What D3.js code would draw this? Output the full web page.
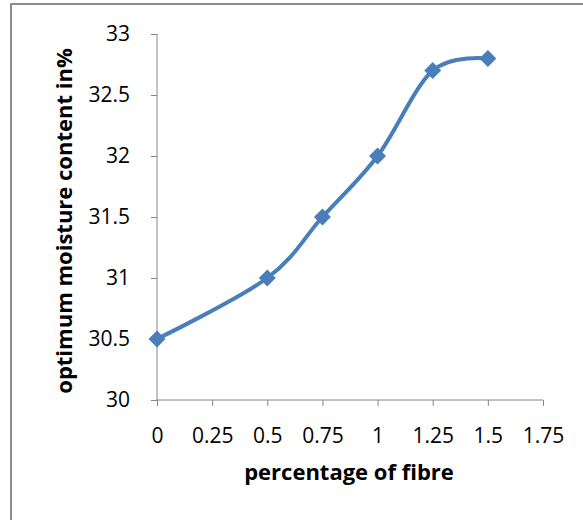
<!DOCTYPE html>
<html>
<head>
<meta charset="utf-8">
<script src="https://cdn.jsdelivr.net/npm/d3@7"></script>
<style>
  body { margin: 0; background: #fff; }
  svg { display: block; }
  svg text { font-family: "Open Sans", "Liberation Sans", sans-serif; }
</style>
</head>
<body>
<svg id="chart"></svg>
<script>
// data
const fibre = [0, 0.5, 0.75, 1, 1.25, 1.5]
const moisture = [30.5, 31, 31.5, 32, 32.7, 32.8]
const xTicks = [0, 0.25, 0.5, 0.75, 1, 1.25, 1.5, 1.75]
const yTicks = [30, 30.5, 31, 31.5, 32, 32.5, 33]

const lineColor = "#4a7ebb"
const axisColor = "#868686"

const W = 583, H = 520
const margin = { top: 34, right: 40, bottom: 120, left: 157 }
const width = W - margin.left - margin.right
const height = H - margin.top - margin.bottom

const svg = d3.select("#chart").attr("width", W).attr("height", H)

// outer frame (cut off at right/bottom like the source)
svg.append("rect")
  .attr("x", 11).attr("y", 4)
  .attr("width", W + 10).attr("height", H + 10)
  .attr("fill", "none")
  .attr("stroke", "#8c8c8c")
  .attr("stroke-width", 2)

const chart = svg.append("g")
  .attr("transform", `translate(${margin.left},${margin.top})`)

const x = d3.scaleLinear().domain([0, 1.75]).range([0, width])
const y = d3.scaleLinear().domain([30, 33]).range([height, 0])

const xAxis = chart.append("g")
  .attr("transform", `translate(0,${height})`)
  .call(d3.axisBottom(x).tickValues(xTicks).tickSize(6).tickPadding(22)
    .tickFormat(d => String(d)))
xAxis.select(".domain").attr("stroke", axisColor).attr("d", `M0,0H${width}`)
xAxis.selectAll(".tick line").attr("stroke", axisColor)
xAxis.selectAll("text").attr("font-size", 21).attr("fill", "#000")

const yAxis = chart.append("g")
  .call(d3.axisLeft(y).tickValues(yTicks).tickSize(6).tickPadding(21)
    .tickFormat(d => String(d)))
yAxis.select(".domain").attr("stroke", axisColor).attr("d", `M0,${height}V0`)
yAxis.selectAll(".tick line").attr("stroke", axisColor)
yAxis.selectAll("text").attr("font-size", 21).attr("fill", "#000")

// axis titles
svg.append("text")
  .attr("x", 349).attr("y", 480)
  .attr("text-anchor", "middle")
  .attr("font-size", 22).attr("font-weight", "bold")
  .text("percentage of fibre")

svg.append("text")
  .attr("transform", "translate(72,221) rotate(-90)")
  .attr("text-anchor", "middle")
  .attr("font-size", 22).attr("font-weight", "bold")
  .text("optimum moisture content in%")

// smoothed line
const pts = fibre.map((f, i) => [f, moisture[i]])
const line = d3.line()
  .x(d => x(d[0])).y(d => y(d[1]))
  .curve(d3.curveCatmullRom.alpha(0))

chart.append("path")
  .datum(pts)
  .attr("fill", "none")
  .attr("stroke", lineColor)
  .attr("stroke-width", 4)
  .attr("stroke-linejoin", "round")
  .attr("d", line)

// diamond markers
chart.selectAll(".marker")
  .data(pts)
  .enter().append("path")
  .attr("class", "marker")
  .attr("transform", d => `translate(${x(d[0])},${y(d[1])}) rotate(45)`)
  .attr("d", "M-6,-6H6V6H-6Z")
  .attr("fill", lineColor)
</script>
</body>
</html>
